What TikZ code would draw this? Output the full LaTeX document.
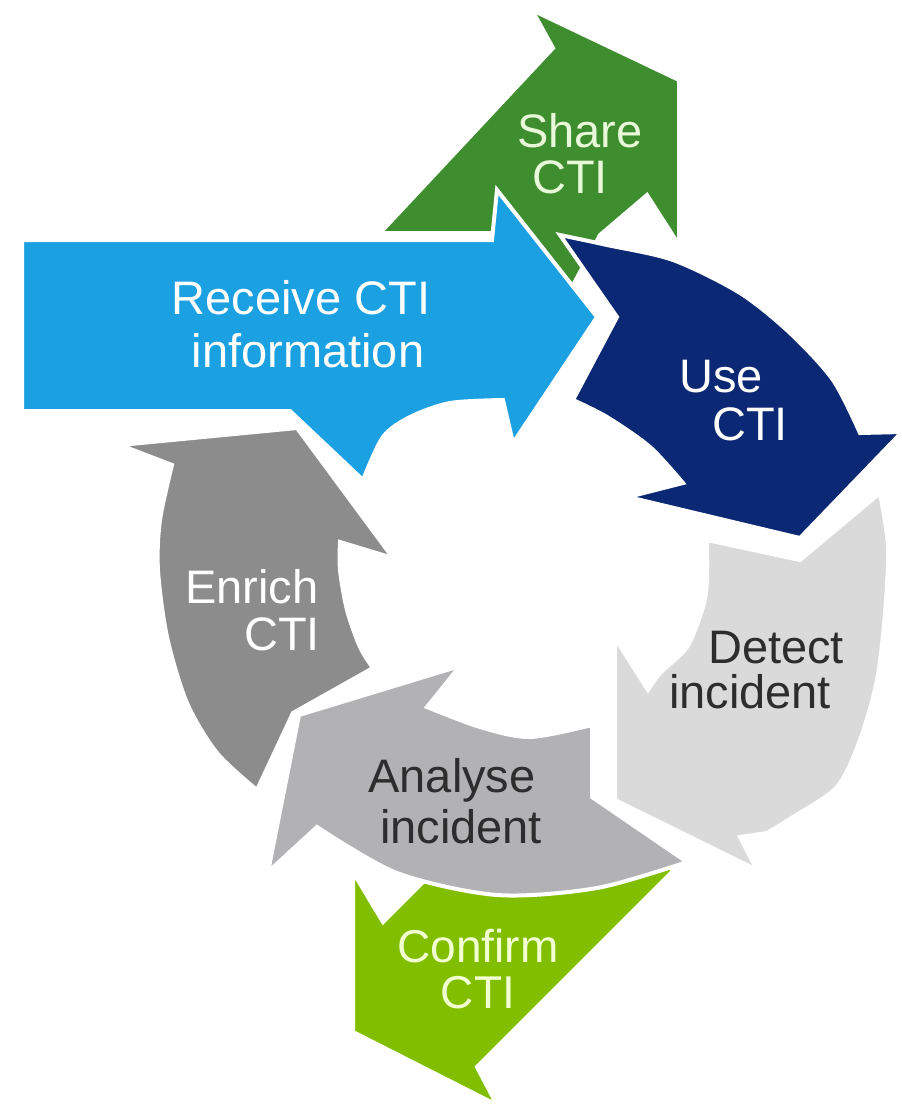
\documentclass[tikz,border=0pt]{standalone}
\usepackage{fontspec}
\setmainfont{Liberation Sans}
\definecolor{cshare}{RGB}{62,142,47}
\definecolor{creceive}{RGB}{27,160,225}
\definecolor{cuse}{RGB}{10,40,115}
\definecolor{cdetect}{RGB}{218,218,218}
\definecolor{canalyse}{RGB}{178,178,180}
\definecolor{cenrich}{RGB}{140,140,140}
\definecolor{cconfirm}{RGB}{130,190,0}
\definecolor{tshare}{RGB}{232,248,216}
\definecolor{tconfirm}{RGB}{242,255,208}
\definecolor{tdark}{RGB}{45,45,45}
\begin{document}
\begin{tikzpicture}[x=1pt,y=-1pt,
  segment/.style={draw=white,line width=4pt,line join=miter,miter limit=4},
  lbl/.style={font=\fontsize{47}{52}\selectfont,anchor=base,inner sep=0pt}]
\useasboundingbox (0,0) rectangle (902,1106);
\fill[white] (0,0) rectangle (902,1106);

% Share CTI (behind the receive arrow)
\filldraw[segment,fill=cshare] (380,233) -- (553,48) -- (532,10) -- (679,80)
  -- (679,245) -- (647,195) -- (600,235) -- (565,300) -- (510,300) -- (510,233) -- cycle;

% Receive CTI information
\filldraw[segment,fill=creceive] (22,240) -- (492,240) -- (497,190) -- (597,317)
  -- (513,443) -- plot[smooth] coordinates {(503,400) (450,403) (410,417) (383,437) (363,480)}
  -- (290,411) -- (22,411) -- cycle;

% Use CTI
\filldraw[segment,fill=cuse] plot[smooth] coordinates {(560,235) (607,245) (673,260) (740,293) (790,333) (833,380) (860,433)}
  -- (902,432) -- (800,538) -- (628,497)
  -- plot[smooth] coordinates {(683,483) (650,447) (607,417) (573,400)}
  -- (617,317) -- cycle;

% Detect incident
\filldraw[segment,fill=cdetect] plot[smooth] coordinates {(880,493) (888,547) (885,613) (877,680) (860,740) (837,787) (793,817) (767,833)}
  -- (740,837) -- (757,870) -- (615,800) -- (615,638)
  -- plot[smooth] coordinates {(648,690) (660,673) (687,647) (703,607) (707,580) (707,540)}
  -- (800,560) -- cycle;

% Enrich CTI
\filldraw[segment,fill=cenrich] (120,445) -- (297,428) -- (393,558)
  -- plot[smooth] coordinates {(340,542) (340,570) (347,610) (360,647) (373,668)}
  -- (293,713)
  -- plot[smooth] coordinates {(257,790) (217,753) (187,703) (167,637) (158,570) (160,520) (172,465)}
  -- cycle;

% Confirm CTI (behind the analyse arrow)
\filldraw[segment,fill=cconfirm] (353,872) -- (383,922) -- (435,870) -- (672,850)
  -- (672,872) -- (477,1067) -- (497,1105) -- (353,1032) -- cycle;

% Analyse incident
\filldraw[segment,fill=canalyse] (592,725) -- (592,797)
  -- plot[smooth] coordinates {(687,862) (597,888) (497,895) (397,873) (317,827)}
  -- (268,872) -- (299,715) -- (460,666)
  -- plot[smooth] coordinates {(427,707) (480,727) (530,737) (592,725)}
  -- cycle;

% Labels
\node[lbl,text=white] (recv1) at (301,314) {Receive CTI};
\node[lbl,text=white] (recv2) at (308,367) {information};
\node[lbl,text=tshare] (share1) at (580,147) {Share};
\node[lbl,text=tshare] (share2) at (570,193) {CTI};
\node[lbl,text=white] (use1) at (721,392) {Use};
\node[lbl,text=white] (use2) at (750,440) {CTI};
\node[lbl,text=tdark] (det1) at (776,663) {Detect};
\node[lbl,text=tdark] (det2) at (750,708) {incident};
\node[lbl,text=white] (enr1) at (252,603) {Enrich};
\node[lbl,text=white] (enr2) at (282,650) {CTI};
\node[lbl,text=tdark] (ana1) at (452,792) {Analyse};
\node[lbl,text=tdark] (ana2) at (461,843) {incident};
\node[lbl,text=tconfirm,font=\fontsize{46}{46}\selectfont,align=center,anchor=south]
  (conf) at (478,1009) {Confirm\\CTI};
\end{tikzpicture}
\end{document}
